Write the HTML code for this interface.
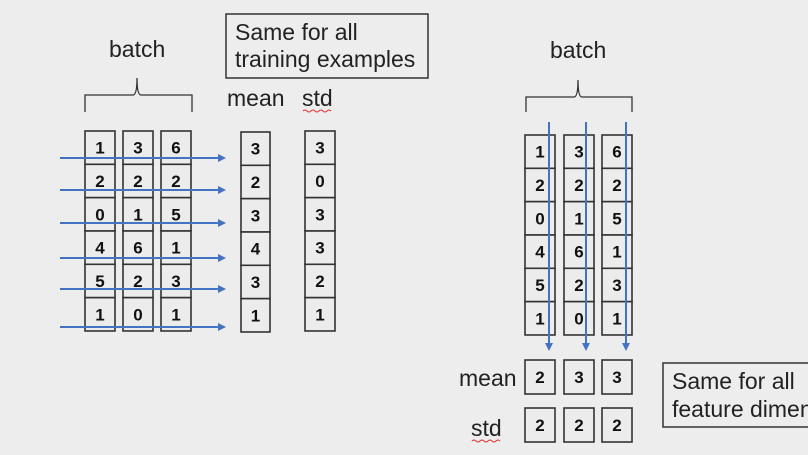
<!DOCTYPE html>
<html><head><meta charset="utf-8"><style>
html,body{margin:0;padding:0;background:#ededed;}
svg{display:block;}
text{font-family:"Liberation Sans","Noto Sans CJK JP",sans-serif;}
.l{font-size:23px;fill:#222;}
.d{font-size:17px;font-weight:bold;fill:#111;text-anchor:middle;}
.c{fill:#ececec;stroke:#333;stroke-width:1.6;}
.a{stroke:#4472c4;stroke-width:2;fill:none;}
.h{fill:#4472c4;}
</style></head><body>
<svg width="808" height="455" viewBox="0 0 808 455" xmlns="http://www.w3.org/2000/svg">
<rect width="808" height="455" fill="#ededed"/>
<text class="l" x="109" y="57">batch</text>
<path d="M85,112 V95 H133 Q137,95 137,78 Q137,95 141,95 H192 V112" fill="none" stroke="#333" stroke-width="1.3"/>
<rect x="226" y="14" width="202" height="64" fill="none" stroke="#333" stroke-width="1.5"/>
<text class="l" x="235" y="40">Same for all</text>
<text class="l" x="235" y="67">training examples</text>
<text class="l" x="227" y="106">mean</text>
<text class="l" x="302" y="106">std</text>
<path d="M303,111 q2,-2 4,0 t4,0 t4,0 t4,0 t4,0 t4,0 t4,0" stroke="#d33" stroke-width="1" fill="none"/>
<g id="L"></g>
<text class="l" x="550" y="58">batch</text>
<path d="M526,112 V97 H574 Q578,97 578,80 Q578,97 582,97 H632 V112" fill="none" stroke="#333" stroke-width="1.3"/>
<text class="l" x="459" y="386">mean</text>
<text class="l" x="471" y="436">std</text>
<path d="M472,441 q2,-2 4,0 t4,0 t4,0 t4,0 t4,0 t4,0 t4,0" stroke="#d33" stroke-width="1" fill="none"/>
<rect x="663" y="363" width="160" height="64" fill="none" stroke="#333" stroke-width="1.5"/>
<text class="l" x="672" y="389">Same for all</text>
<text class="l" x="672" y="417">feature dimensions</text>
<g id="R"></g>
</svg>
<script>
var ns="http://www.w3.org/2000/svg";
function el(p,t,a,txt){var e=document.createElementNS(ns,t);for(var k in a)e.setAttribute(k,a[k]);if(txt!==undefined)e.textContent=txt;p.appendChild(e);return e;}
var data=[[1,3,6],[2,2,2],[0,1,5],[4,6,1],[5,2,3],[1,0,1]];
function cell(g,x,y,w,h,v){el(g,"rect",{x:x,y:y,width:w,height:h,"class":"c"});el(g,"text",{x:x+w/2,y:y+h/2+6,"class":"d"},v);}
var L=document.getElementById("L"),R=document.getElementById("R");
var lx=[85,123,161],rh=33.33;
for(var r=0;r<6;r++)for(var c=0;c<3;c++)cell(L,lx[c],131+r*rh,30,rh,data[r][c]);
var mean=[3,2,3,4,3,1],sd=[3,0,3,3,2,1];
for(r=0;r<6;r++){cell(L,241,132+r*rh,29,rh,mean[r]);cell(L,305,131+r*rh,30,rh,sd[r]);}
var ay=[158,190,223,258,289,327];
ay.forEach(function(y){el(L,"line",{x1:60,y1:y,x2:219,y2:y,"class":"a"});el(L,"path",{d:"M226,"+y+" L218,"+(y-4)+" L218,"+(y+4)+"Z","class":"h"});});
var rx=[525,564,602];
for(r=0;r<6;r++)for(c=0;c<3;c++)cell(R,rx[c],135+r*rh,30,rh,data[r][c]);
var m2=[2,3,3],s2=[2,2,2];
for(c=0;c<3;c++){cell(R,rx[c],360,30,34,m2[c]);cell(R,rx[c],408,30,34,s2[c]);}
[549,586,626].forEach(function(x){el(R,"line",{x1:x,y1:122,x2:x,y2:344,"class":"a"});el(R,"path",{d:"M"+x+",351 L"+(x-4)+",343 L"+(x+4)+",343Z","class":"h"});});
</script>
</body></html>
